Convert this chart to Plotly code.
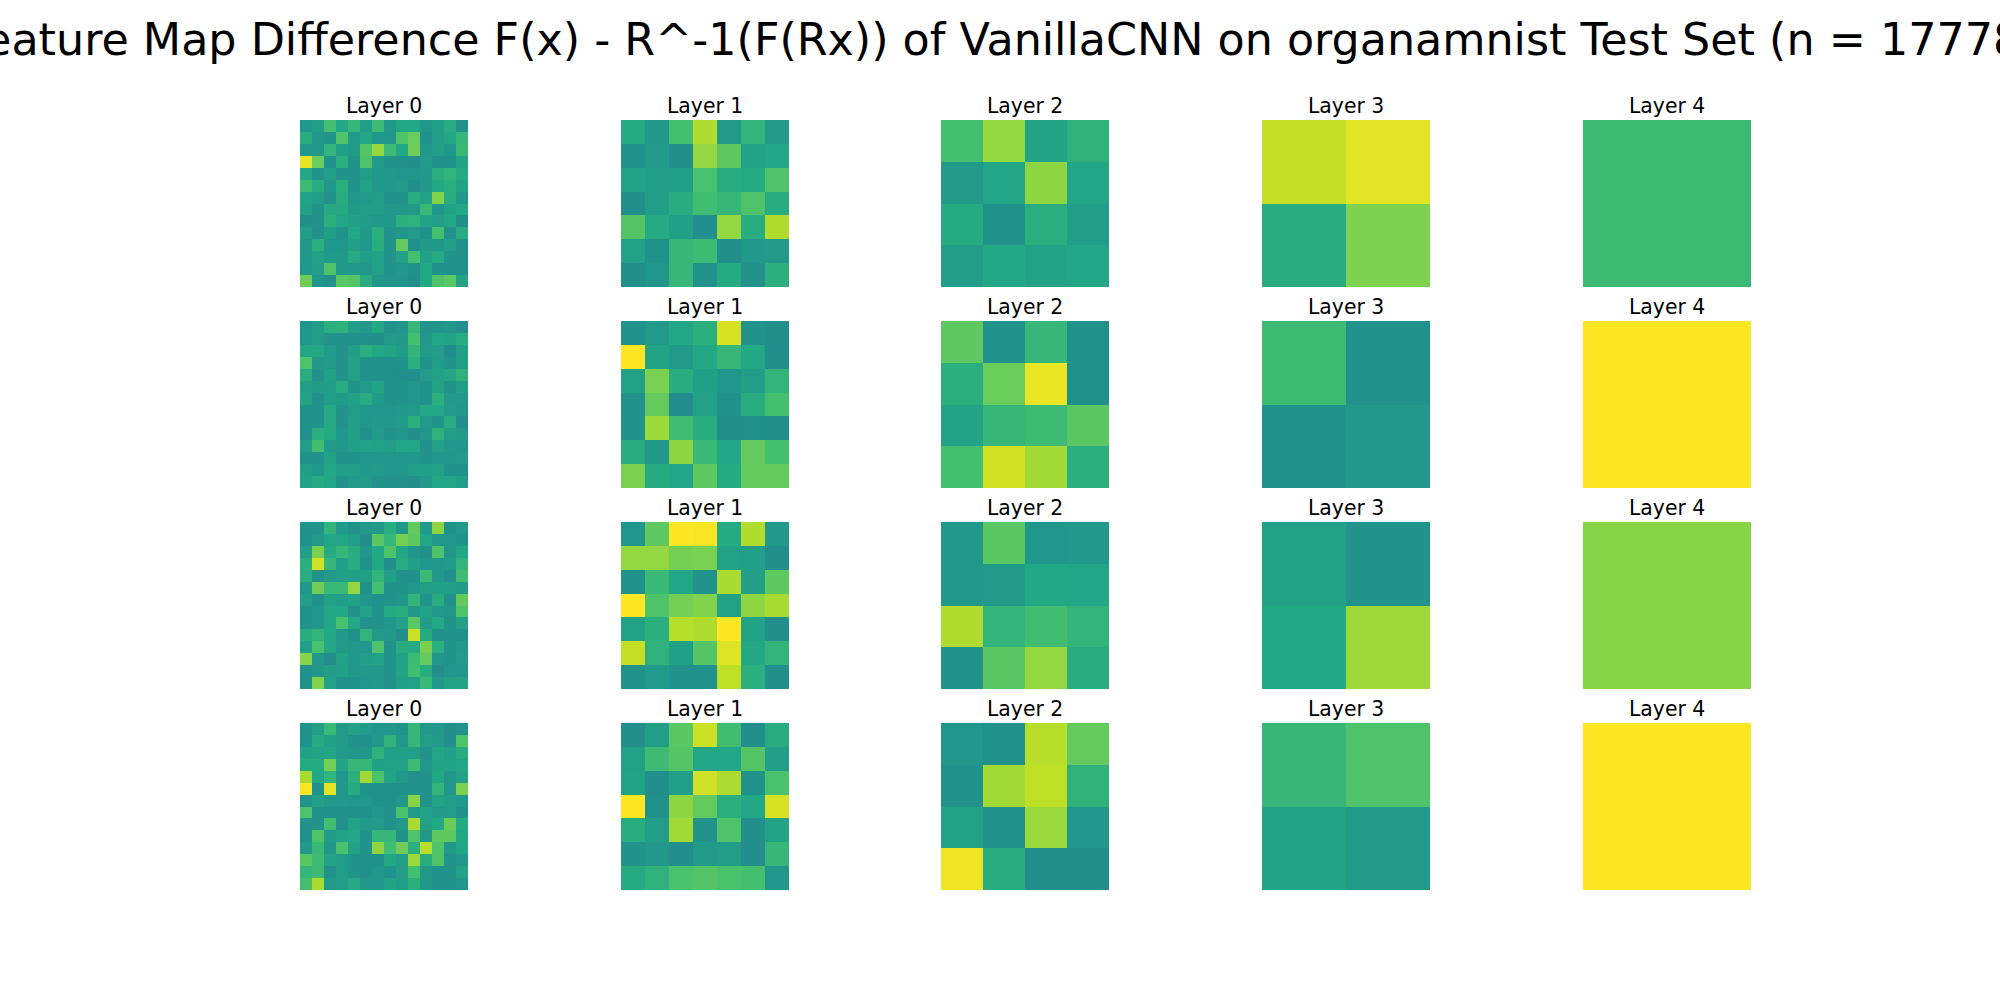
import plotly.graph_objects as go
from plotly.subplots import make_subplots

TITLE = "Feature Map Difference F(x) - R^-1(F(Rx)) of VanillaCNN on organamnist Test Set (n = 17778)"
layers = ["Layer 0", "Layer 1", "Layer 2", "Layer 3", "Layer 4"]

# matplotlib viridis, plotly's own has fewer stops and runs lighter
viridis = [
    [0.0, "#440154"], [0.1, "#482475"], [0.2, "#414487"], [0.3, "#355f8d"],
    [0.4, "#2a788e"], [0.5, "#21918c"], [0.6, "#22a884"], [0.7, "#44bf70"],
    [0.8, "#7ad151"], [0.9, "#bddf26"], [1.0, "#fde725"],
]

r0_l0 = [
    [.52, .55, .70, .60, .66, .55, .68, .53, .60, .60, .52, .55, .62, .50],
    [.62, .52, .51, .72, .54, .60, .53, .52, .72, .77, .50, .55, .60, .66],
    [.53, .53, .65, .56, .54, .73, .84, .68, .60, .78, .53, .55, .52, .67],
    [.96, .77, .50, .63, .51, .72, .54, .50, .50, .49, .54, .50, .50, .58],
    [.59, .51, .56, .51, .51, .55, .53, .53, .52, .52, .53, .63, .65, .61],
    [.68, .62, .52, .63, .51, .58, .53, .53, .54, .49, .53, .60, .63, .57],
    [.58, .55, .50, .62, .52, .54, .55, .51, .51, .62, .57, .81, .62, .52],
    [.57, .51, .61, .61, .53, .55, .55, .53, .52, .54, .67, .52, .58, .60],
    [.49, .51, .63, .59, .56, .54, .53, .53, .63, .64, .58, .55, .60, .49],
    [.56, .50, .56, .51, .60, .53, .63, .50, .52, .54, .50, .70, .50, .62],
    [.53, .63, .52, .52, .56, .52, .62, .51, .76, .50, .53, .53, .56, .50],
    [.53, .57, .54, .53, .61, .55, .58, .51, .57, .70, .57, .61, .51, .50],
    [.52, .55, .72, .53, .53, .53, .57, .51, .53, .50, .60, .50, .50, .50],
    [.78, .52, .50, .74, .73, .62, .52, .52, .52, .49, .60, .72, .74, .58],
]
r1_l0 = [
    [.52, .55, .63, .64, .55, .53, .60, .51, .52, .66, .51, .52, .53, .49],
    [.52, .55, .51, .51, .50, .50, .49, .54, .53, .70, .52, .59, .58, .62],
    [.59, .60, .54, .51, .55, .63, .60, .58, .54, .65, .54, .56, .48, .56],
    [.72, .53, .54, .51, .57, .50, .50, .50, .51, .63, .51, .55, .51, .56],
    [.62, .51, .57, .51, .57, .50, .50, .50, .49, .49, .54, .57, .59, .64],
    [.56, .54, .55, .62, .51, .54, .58, .50, .50, .52, .50, .58, .51, .56],
    [.58, .50, .55, .54, .57, .62, .54, .50, .51, .52, .50, .63, .53, .53],
    [.50, .50, .61, .51, .55, .52, .52, .52, .53, .54, .60, .60, .54, .52],
    [.50, .50, .61, .51, .56, .52, .53, .53, .54, .63, .54, .51, .62, .49],
    [.50, .63, .61, .52, .56, .50, .54, .51, .52, .49, .52, .64, .55, .54],
    [.55, .69, .54, .53, .55, .58, .57, .55, .60, .59, .51, .57, .53, .52],
    [.51, .50, .57, .51, .50, .52, .52, .52, .52, .53, .51, .52, .52, .54],
    [.56, .52, .60, .55, .56, .53, .54, .52, .52, .56, .56, .57, .50, .50],
    [.57, .61, .59, .51, .54, .54, .51, .51, .51, .49, .53, .59, .59, .55],
]
r2_l0 = [
    [.51, .51, .65, .54, .50, .53, .54, .62, .52, .76, .54, .83, .50, .53],
    [.50, .54, .59, .59, .55, .49, .74, .66, .79, .75, .60, .52, .52, .51],
    [.55, .80, .61, .66, .62, .52, .60, .72, .60, .52, .50, .72, .52, .60],
    [.63, .93, .66, .56, .62, .50, .60, .48, .62, .55, .52, .52, .54, .65],
    [.62, .50, .54, .56, .56, .56, .65, .57, .50, .50, .67, .53, .49, .69],
    [.52, .78, .67, .67, .84, .50, .70, .51, .51, .53, .55, .56, .56, .54],
    [.55, .51, .58, .55, .58, .52, .50, .51, .52, .65, .51, .62, .50, .76],
    [.51, .52, .59, .60, .51, .57, .51, .61, .62, .53, .58, .53, .52, .72],
    [.51, .52, .59, .71, .60, .50, .51, .52, .57, .74, .55, .60, .51, .57],
    [.62, .65, .60, .53, .50, .65, .54, .53, .49, .92, .61, .51, .51, .50],
    [.56, .71, .60, .54, .52, .52, .72, .50, .62, .61, .80, .63, .51, .53],
    [.82, .53, .49, .58, .52, .55, .57, .50, .58, .68, .76, .52, .51, .54],
    [.50, .53, .55, .56, .53, .53, .53, .50, .58, .69, .62, .49, .52, .52],
    [.50, .81, .58, .51, .50, .52, .53, .50, .56, .57, .67, .53, .57, .58],
]
r3_l0 = [
    [.51, .56, .67, .54, .57, .54, .52, .52, .50, .66, .53, .53, .49, .51],
    [.50, .61, .56, .54, .51, .50, .53, .64, .53, .66, .55, .54, .49, .72],
    [.57, .58, .59, .54, .52, .52, .64, .56, .56, .56, .51, .59, .56, .62],
    [.61, .61, .79, .58, .66, .66, .56, .57, .57, .68, .52, .58, .58, .59],
    [.87, .60, .65, .52, .63, .86, .71, .58, .53, .49, .51, .60, .52, .58],
    [1.0, .50, .96, .53, .61, .51, .50, .50, .50, .51, .51, .65, .52, .80],
    [.51, .56, .53, .53, .52, .52, .50, .50, .53, .82, .51, .58, .55, .53],
    [.72, .51, .51, .51, .50, .50, .52, .50, .71, .54, .57, .54, .55, .50],
    [.51, .51, .69, .50, .58, .54, .54, .50, .53, .87, .57, .60, .77, .61],
    [.50, .72, .54, .58, .59, .51, .66, .66, .51, .72, .53, .75, .75, .60],
    [.53, .67, .52, .71, .58, .51, .83, .69, .78, .63, .89, .72, .53, .59],
    [.74, .68, .58, .55, .51, .50, .50, .60, .55, .85, .62, .72, .50, .53],
    [.66, .68, .50, .55, .51, .50, .52, .50, .55, .70, .53, .50, .51, .58],
    [.70, .87, .54, .55, .61, .52, .52, .58, .55, .63, .53, .50, .50, .52],
]

r0_l1 = [
    [.61, .53, .70, .88, .54, .65, .54],
    [.50, .54, .49, .84, .75, .58, .59],
    [.58, .55, .56, .71, .62, .61, .72],
    [.49, .55, .62, .69, .66, .72, .62],
    [.73, .61, .56, .49, .84, .62, .88],
    [.57, .50, .66, .68, .49, .53, .54],
    [.49, .52, .66, .51, .61, .51, .63],
]
r1_l1 = [
    [.50, .54, .60, .63, .94, .51, .49],
    [1.0, .58, .54, .60, .66, .60, .49],
    [.57, .80, .62, .56, .52, .55, .65],
    [.50, .76, .48, .57, .50, .62, .70],
    [.51, .85, .69, .62, .49, .50, .49],
    [.62, .53, .83, .67, .59, .76, .70],
    [.80, .61, .59, .75, .61, .76, .76],
]
r2_l1 = [
    [.52, .75, 1.0, .99, .61, .88, .53],
    [.84, .84, .79, .80, .57, .56, .49],
    [.50, .67, .59, .51, .87, .56, .75],
    [1.0, .72, .79, .81, .57, .83, .87],
    [.58, .63, .89, .88, 1.0, .58, .49],
    [.91, .64, .56, .73, .95, .60, .65],
    [.51, .54, .50, .50, .90, .63, .49],
]
r3_l1 = [
    [.49, .56, .74, .92, .69, .49, .62],
    [.57, .68, .73, .59, .59, .73, .55],
    [.58, .49, .56, .93, .875, .51, .71],
    [1.0, .50, .83, .76, .63, .60, .94],
    [.62, .55, .86, .51, .72, .49, .58],
    [.51, .53, .49, .54, .55, .49, .66],
    [.61, .64, .71, .73, .71, .70, .52],
]

r0_l2 = [
    [.70, .84, .58, .64],
    [.54, .59, .83, .59],
    [.61, .51, .63, .55],
    [.555, .60, .58, .59],
]
r1_l2 = [
    [.75, .51, .66, .50],
    [.63, .77, .97, .50],
    [.58, .66, .68, .74],
    [.70, .93, .86, .63],
]
r2_l2 = [
    [.53, .74, .52, .53],
    [.53, .54, .60, .59],
    [.88, .65, .69, .65],
    [.51, .74, .84, .62],
]
r3_l2 = [
    [.52, .50, .89, .76],
    [.50, .86, .90, .64],
    [.57, .50, .85, .52],
    [.98, .62, .49, .49],
]

r0_l3 = [[.91, .96], [.62, .805]]
r1_l3 = [[.68, .50], [.50, .53]]
r2_l3 = [[.57, .51], [.60, .855]]
r3_l3 = [[.66, .72], [.58, .54]]

r0_l4 = [[.68]]
r1_l4 = [[1.0]]
r2_l4 = [[.82]]
r3_l4 = [[1.0]]

grids = [
    [r0_l0, r0_l1, r0_l2, r0_l3, r0_l4],
    [r1_l0, r1_l1, r1_l2, r1_l3, r1_l4],
    [r2_l0, r2_l1, r2_l2, r2_l3, r2_l4],
    [r3_l0, r3_l1, r3_l2, r3_l3, r3_l4],
]

W, H = 2000, 1000
col_left = [300, 621, 941, 1262, 1583]
row_top = [120, 321, 522, 723]
panel_w = 168
panel_h = 167

fig = make_subplots(rows=4, cols=5)

for r, row in enumerate(grids):
    for c, z in enumerate(row):
        fig.add_trace(
            go.Heatmap(z=z, colorscale=viridis, zmin=0, zmax=1, showscale=False, hoverinfo="skip"),
            row=r + 1,
            col=c + 1,
        )
        n = r * 5 + c + 1
        suffix = "" if n == 1 else str(n)
        fig.layout["xaxis" + suffix].update(
            domain=[col_left[c] / W, (col_left[c] + panel_w) / W], visible=False
        )
        fig.layout["yaxis" + suffix].update(
            domain=[1 - (row_top[r] + panel_h) / H, 1 - row_top[r] / H], visible=False, autorange="reversed"
        )
        fig.add_annotation(
            text=layers[c],
            x=(col_left[c] + panel_w / 2) / W,
            y=1 - row_top[r] / H,
            xref="paper",
            yref="paper",
            xanchor="center",
            yanchor="bottom",
            showarrow=False,
            font=dict(size=20.4, color="black"),
        )

fig.add_annotation(
    text=TITLE,
    x=0.5,
    y=1 - 39 / H,
    xref="paper",
    yref="paper",
    xanchor="center",
    yanchor="middle",
    showarrow=False,
    font=dict(size=44.4, color="black"),
)

fig.update_layout(
    width=W,
    height=H,
    margin=dict(l=0, r=0, t=0, b=0),
    paper_bgcolor="white",
    plot_bgcolor="white",
    font=dict(family="DejaVu Sans"),
)

fig.write_html("out.html", config={"displayModeBar": False}, post_script="document.body.style.margin = '0';")
